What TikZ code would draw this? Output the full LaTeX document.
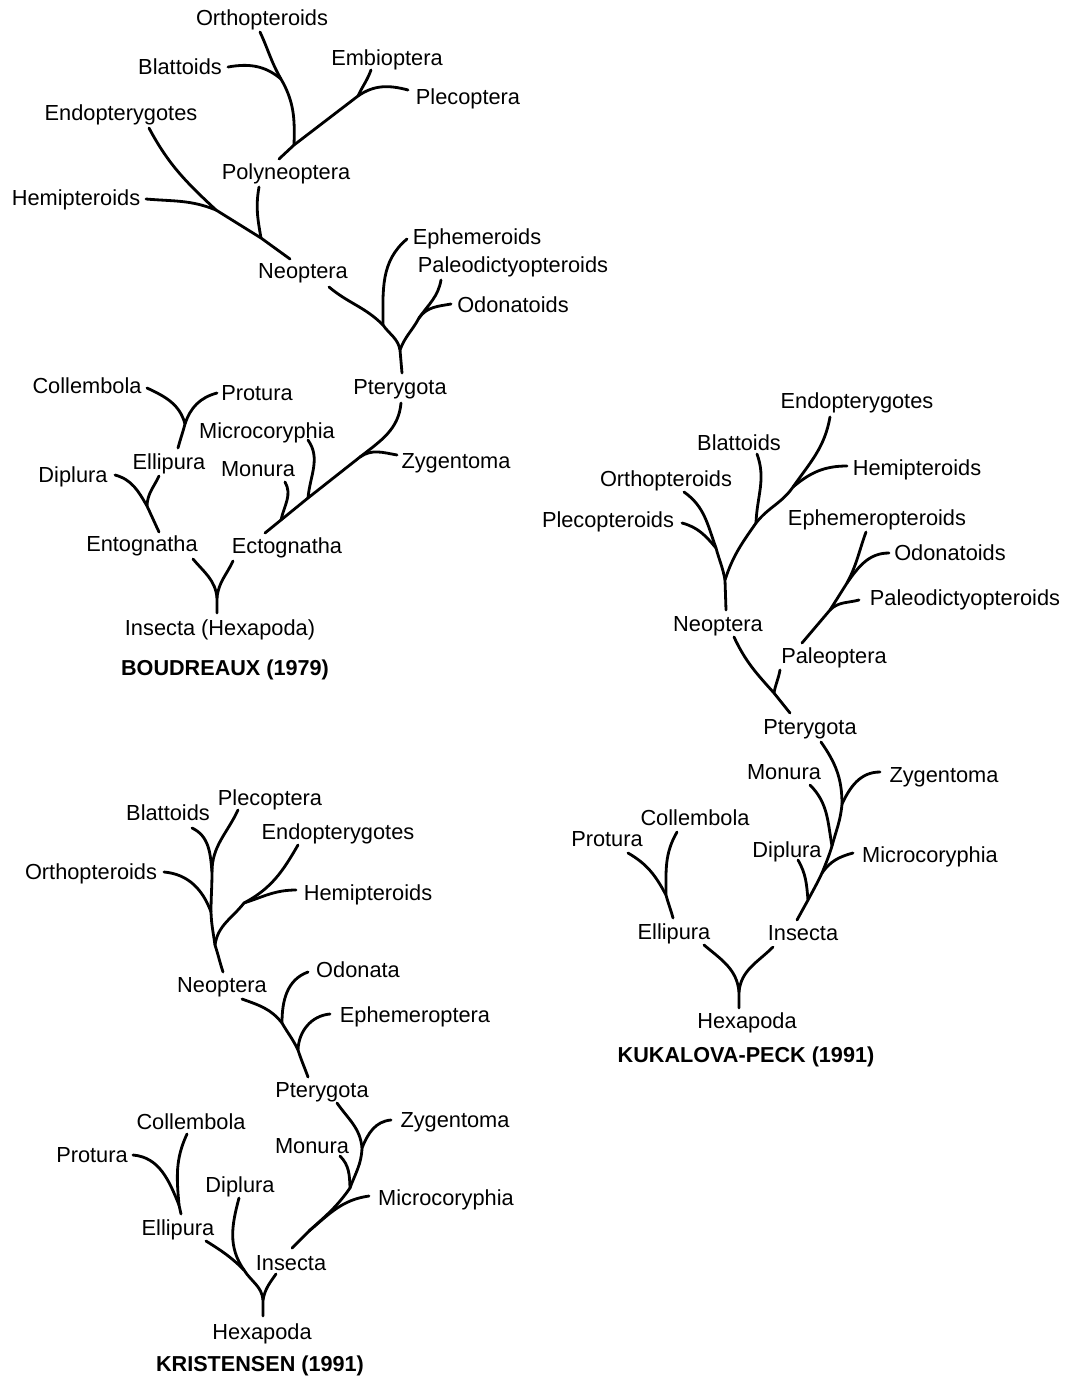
\documentclass[tikz,border=0pt]{standalone}
\usepackage{fontspec}
\newfontfamily\taxfont{Liberation Sans}
\usepackage{tikz}
\usetikzlibrary{positioning,calc}
\tikzstyle{taxon} = [font=\taxfont\fontsize{12.4}{14}\selectfont, inner sep=0pt, text depth=0pt]
\tikzstyle{author} = [font=\taxfont\bfseries\fontsize{12.3}{14}\selectfont, inner sep=0pt, text depth=0pt]
\tikzstyle{branch} = [line width=1.6pt, line cap=round]

\begin{document}
\begin{tikzpicture}[x=0.02cm, y=-0.02cm]
        \useasboundingbox (0,0) rectangle (1074,1380);
        % Boudreaux (1979)
        \node[taxon] (bOrth) at (262,18) {Orthopteroids};
        \node[taxon] (bBlat) at (180,67) {Blattoids};
        \node[taxon] (bEmbi) at (387,58) {Embioptera};
        \node[taxon] (bPlec) at (468,97) {Plecoptera};
        \node[taxon] (bEndo) at (121,113) {Endopterygotes};
        \node[taxon] (bPoly) at (286,172) {Polyneoptera};
        \node[taxon] (bHemi) at (76,198) {Hemipteroids};
        \node[taxon] (bEphe) at (477,237) {Ephemeroids};
        \node[taxon] (bNeop) at (303,271) {Neoptera};
        \node[taxon] (bPaleo) at (513,265) {Paleodictyopteroids};
        \node[taxon] (bOdon) at (513,305) {Odonatoids};
        \node[taxon] (bColl) at (87,386) {Collembola};
        \node[taxon] (bProt) at (257,393) {Protura};
        \node[taxon] (bPter) at (400,387) {Pterygota};
        \node[taxon] (bMicr) at (267,431) {Microcoryphia};
        \node[taxon] (bElli) at (169,462) {Ellipura};
        \node[taxon] (bMonu) at (258,469) {Monura};
        \node[taxon] (bZyge) at (456,461) {Zygentoma};
        \node[taxon] (bDipl) at (73,475) {Diplura};
        \node[taxon] (bEnto) at (142,544) {Entognatha};
        \node[taxon] (bEcto) at (287,546) {Ectognatha};
        \node[taxon] (bInse) at (220,628) {Insecta (Hexapoda)};
        \node[author] (bTitle) at (225,668) {BOUDREAUX (1979)};

        \coordinate (bOrthT) at (260,32);
        \coordinate (bjOB) at (281,79);
        \coordinate (bjPoly) at (294,145);
        \coordinate (bPolyT) at (279,159);
        \coordinate (bBlatT) at (228,67);
        \coordinate (bEmbiT) at (371,70);
        \coordinate (bjEP) at (358,96);
        \coordinate (bPlecT) at (408,90);
        \coordinate (bPolyB) at (259,187);
        \coordinate (bjPN) at (261,238);
        \coordinate (bEndoT) at (149,128);
        \coordinate (bjHE) at (216,210);
        \coordinate (bNeopT) at (290,259);
        \coordinate (bHemiT) at (146,199);
        \coordinate (bNeopB) at (329,287);
        \coordinate (bjNE) at (383,325);
        \coordinate (bjNP) at (400,350);
        \coordinate (bPterT) at (402,373);
        \coordinate (bEpheT) at (407,239);
        \coordinate (bPaleoT) at (441,280);
        \coordinate (bjPO) at (419,318);
        \coordinate (bOdonT) at (451,304);
        \coordinate (bCollT) at (147,388);
        \coordinate (bProtT) at (217,393);
        \coordinate (bjCP) at (185,424);
        \coordinate (bElliT) at (178,448);
        \coordinate (bDiplT) at (115,475);
        \coordinate (bElliB) at (159,476);
        \coordinate (bjDE) at (147,506);
        \coordinate (bEntoT) at (159,532);
        \coordinate (bEntoB) at (193,559);
        \coordinate (bEctoB) at (233,561);
        \coordinate (bjIns) at (217,598);
        \coordinate (bInseT) at (217,613);
        \coordinate (bPterB) at (401,403);
        \coordinate (bjPZ) at (360,457);
        \coordinate (bjMi) at (308,498);
        \coordinate (bjMo) at (281,520);
        \coordinate (bEctoT) at (265,533);
        \coordinate (bZygeT) at (397,455);
        \coordinate (bMicrT) at (308,440);
        \coordinate (bMonuT) at (285,482);

        \draw[branch] (bOrthT) to[out=-65,in=120] (bjOB) to[out=-60,in=88] (bjPoly);
        \draw[branch] (bBlatT) to[out=10,in=140] (bjOB);
        \draw[branch] (bEmbiT) to[out=-110,in=65] (bjEP);
        \draw[branch] (bPlecT) to[out=165,in=35] (bjEP) -- (bjPoly) -- (bPolyT);
        \draw[branch] (bPolyB) to[out=-100,in=100] (bjPN);
        \draw[branch] (bEndoT) to[out=-62,in=137] (bjHE) -- (bjPN) -- (bNeopT);
        \draw[branch] (bHemiT) to[out=-5,in=158] (bjHE);
        \draw[branch] (bNeopB) to[out=-40,in=135] (bjNE) to[out=-55,in=100] (bjNP) -- (bPterT);
        \draw[branch] (bEpheT) to[out=-140,in=90] (bjNE);
        \draw[branch] (bPaleoT) to[out=-100,in=55] (bjPO) to[out=-118,in=70] (bjNP);
        \draw[branch] (bOdonT) to[out=-170,in=55] (bjPO);
        \draw[branch] (bCollT) to[out=-25,in=105] (bjCP);
        \draw[branch] (bProtT) to[out=-165,in=72] (bjCP) to[out=-105,in=75] (bElliT);
        \draw[branch] (bDiplT) to[out=-15,in=120] (bjDE) to[out=-65,in=115] (bEntoT);
        \draw[branch] (bElliB) to[out=-115,in=88] (bjDE);
        \draw[branch] (bEntoB) to[out=-50,in=95] (bjIns) -- (bInseT);
        \draw[branch] (bEctoB) to[out=-115,in=85] (bjIns);
        \draw[branch] (bPterB) to[out=-95,in=38] (bjPZ) -- (bjMi) -- (bjMo) -- (bEctoT);
        \draw[branch] (bZygeT) to[out=170,in=35] (bjPZ);
        \draw[branch] (bMicrT) to[out=-55,in=85] (bjMi);
        \draw[branch] (bMonuT) to[out=-60,in=78] (bjMo);

        % Kukalova-Peck (1991)
        \node[taxon] (kEndo) at (857,401) {Endopterygotes};
        \node[taxon] (kBlat) at (739,443) {Blattoids};
        \node[taxon] (kOrth) at (666,479) {Orthopteroids};
        \node[taxon] (kHemi) at (917,468) {Hemipteroids};
        \node[taxon] (kPlec) at (608,520) {Plecopteroids};
        \node[taxon] (kEphe) at (877,518) {Ephemeropteroids};
        \node[taxon] (kOdon) at (950,553) {Odonatoids};
        \node[taxon] (kPaleo) at (965,598) {Paleodictyopteroids};
        \node[taxon] (kNeop) at (718,624) {Neoptera};
        \node[taxon] (kPaleop) at (834,656) {Paleoptera};
        \node[taxon] (kPter) at (810,727) {Pterygota};
        \node[taxon] (kMonu) at (784,772) {Monura};
        \node[taxon] (kZyge) at (944,775) {Zygentoma};
        \node[taxon] (kColl) at (695,818) {Collembola};
        \node[taxon] (kProt) at (607,839) {Protura};
        \node[taxon] (kDipl) at (787,850) {Diplura};
        \node[taxon] (kMicr) at (930,855) {Microcoryphia};
        \node[taxon] (kElli) at (674,932) {Ellipura};
        \node[taxon] (kInse) at (803,933) {Insecta};
        \node[taxon] (kHexa) at (747,1021) {Hexapoda};
        \node[author] (kTitle) at (746,1055) {KUKALOVA-PECK (1991)};

        \coordinate (kEndoT) at (830,417);
        \coordinate (kjEH) at (793,487);
        \coordinate (kjEB) at (756,523);
        \coordinate (kjOP) at (716,548);
        \coordinate (kjN) at (725,580);
        \coordinate (kNeopT) at (726,610);
        \coordinate (kHemiT) at (847,466);
        \coordinate (kBlatT) at (757,454);
        \coordinate (kOrthT) at (684,492);
        \coordinate (kPlecT) at (682,523);
        \coordinate (kNeopB) at (734,637);
        \coordinate (kjPP) at (774,693);
        \coordinate (kPterT) at (790,713);
        \coordinate (kPaleopB) at (780,670);
        \coordinate (kEpheT) at (866,532);
        \coordinate (kjEO) at (847,583);
        \coordinate (kjEP) at (830,610);
        \coordinate (kPaleopT) at (802,643);
        \coordinate (kOdonT) at (889,553);
        \coordinate (kPaleoT) at (859,600);
        \coordinate (kPterB) at (821,742);
        \coordinate (kjZ) at (842,804);
        \coordinate (kjMo) at (832,846);
        \coordinate (kjMi) at (822,873);
        \coordinate (kjD) at (808,900);
        \coordinate (kInseT) at (797,920);
        \coordinate (kZygeT) at (880,772);
        \coordinate (kMonuT) at (810,785);
        \coordinate (kMicrT) at (853,853);
        \coordinate (kDiplT) at (798,860);
        \coordinate (kCollT) at (677,832);
        \coordinate (kProtT) at (628,853);
        \coordinate (kjCP) at (666,895);
        \coordinate (kElliT) at (673,918);
        \coordinate (kElliB) at (704,945);
        \coordinate (kInseB) at (773,947);
        \coordinate (kjH) at (739,992);
        \coordinate (kHexaT) at (739,1008);

        \draw[branch] (kEndoT) to[out=-100,in=55] (kjEH) to[out=-125,in=52] (kjEB) to[out=-125,in=72] (kjN) -- (kNeopT);
        \draw[branch] (kHemiT) to[out=180,in=40] (kjEH);
        \draw[branch] (kBlatT) to[out=-70,in=88] (kjEB);
        \draw[branch] (kOrthT) to[out=-35,in=110] (kjOP) to[out=-75,in=100] (kjN);
        \draw[branch] (kPlecT) to[out=-15,in=130] (kjOP);
        \draw[branch] (kNeopB) to[out=-65,in=132] (kjPP) -- (kPterT);
        \draw[branch] (kPaleopB) to[out=-100,in=80] (kjPP);
        \draw[branch] (kEpheT) to[out=-110,in=62] (kjEO) -- (kjEP) -- (kPaleopT);
        \draw[branch] (kOdonT) to[out=180,in=55] (kjEO);
        \draw[branch] (kPaleoT) to[out=-165,in=45] (kjEP);
        \draw[branch] (kPterB) to[out=-55,in=90] (kjZ) to[out=-95,in=75] (kjMo) to[out=-107,in=68] (kjMi) to[out=-115,in=62] (kjD) -- (kInseT);
        \draw[branch] (kZygeT) to[out=180,in=65] (kjZ);
        \draw[branch] (kMonuT) to[out=-45,in=100] (kjMo);
        \draw[branch] (kMicrT) to[out=-165,in=55] (kjMi);
        \draw[branch] (kDiplT) to[out=-60,in=95] (kjD);
        \draw[branch] (kCollT) to[out=-120,in=90] (kjCP) to[out=-75,in=105] (kElliT);
        \draw[branch] (kProtT) to[out=-30,in=118] (kjCP);
        \draw[branch] (kElliB) to[out=-40,in=95] (kjH) -- (kHexaT);
        \draw[branch] (kInseB) to[out=-135,in=85] (kjH);

        % Kristensen (1991)
        \node[taxon] (rPlec) at (270,798) {Plecoptera};
        \node[taxon] (rBlat) at (168,813) {Blattoids};
        \node[taxon] (rEndo) at (338,832) {Endopterygotes};
        \node[taxon] (rOrth) at (91,872) {Orthopteroids};
        \node[taxon] (rHemi) at (368,893) {Hemipteroids};
        \node[taxon] (rOdon) at (358,970) {Odonata};
        \node[taxon] (rNeop) at (222,985) {Neoptera};
        \node[taxon] (rEphe) at (415,1015) {Ephemeroptera};
        \node[taxon] (rPter) at (322,1090) {Pterygota};
        \node[taxon] (rZyge) at (455,1120) {Zygentoma};
        \node[taxon] (rColl) at (191,1122) {Collembola};
        \node[taxon] (rMonu) at (312,1146) {Monura};
        \node[taxon] (rProt) at (92,1155) {Protura};
        \node[taxon] (rDipl) at (240,1185) {Diplura};
        \node[taxon] (rMicr) at (446,1198) {Microcoryphia};
        \node[taxon] (rElli) at (178,1228) {Ellipura};
        \node[taxon] (rInse) at (291,1263) {Insecta};
        \node[taxon] (rHexa) at (262,1332) {Hexapoda};
        \node[author] (rTitle) at (260,1364) {KRISTENSEN (1991)};

        \coordinate (rPlecT) at (238,810);
        \coordinate (rBlatT) at (192,828);
        \coordinate (rjBP) at (212,872);
        \coordinate (rjO) at (211,912);
        \coordinate (rjM) at (215,945);
        \coordinate (rNeopT) at (223,972);
        \coordinate (rOrthT) at (164,872);
        \coordinate (rEndoT) at (298,845);
        \coordinate (rHemiT) at (296,890);
        \coordinate (rjEH) at (244,903);
        \coordinate (rNeopB) at (242,999);
        \coordinate (rjNO) at (282,1023);
        \coordinate (rjNE) at (298,1050);
        \coordinate (rPterT) at (308,1077);
        \coordinate (rOdonT) at (308,972);
        \coordinate (rEpheT) at (330,1014);
        \coordinate (rPterB) at (337,1103);
        \coordinate (rjZ) at (362,1148);
        \coordinate (rjMo) at (350,1188);
        \coordinate (rjMi) at (309,1231);
        \coordinate (rInseT) at (292,1248);
        \coordinate (rZygeT) at (391,1120);
        \coordinate (rMonuT) at (340,1156);
        \coordinate (rMicrT) at (369,1196);
        \coordinate (rCollT) at (187,1134);
        \coordinate (rProtT) at (133,1155);
        \coordinate (rjCP) at (179,1205);
        \coordinate (rElliT) at (181,1214);
        \coordinate (rElliB) at (206,1241);
        \coordinate (rjD) at (244,1270);
        \coordinate (rjI) at (263,1300);
        \coordinate (rHexaT) at (263,1316);
        \coordinate (rDiplT) at (239,1198);
        \coordinate (rInseB) at (276,1274);

        \draw[branch] (rPlecT) to[out=-115,in=90] (rjBP) to[out=-90,in=90] (rjO) to[out=-88,in=98] (rjM) to[out=-72,in=108] (rNeopT);
        \draw[branch] (rBlatT) to[out=-25,in=95] (rjBP);
        \draw[branch] (rOrthT) to[out=-5,in=110] (rjO);
        \draw[branch] (rEndoT) to[out=-120,in=28] (rjEH) to[out=-128,in=82] (rjM);
        \draw[branch] (rHemiT) to[out=180,in=18] (rjEH);
        \draw[branch] (rNeopB) to[out=-20,in=128] (rjNO) to[out=-60,in=115] (rjNE) to[out=-72,in=110] (rPterT);
        \draw[branch] (rOdonT) to[out=-160,in=90] (rjNO);
        \draw[branch] (rEpheT) to[out=-175,in=88] (rjNE);
        \draw[branch] (rPterB) to[out=-55,in=95] (rjZ) to[out=-92,in=70] (rjMo) to[out=-125,in=42] (rjMi) -- (rInseT);
        \draw[branch] (rZygeT) to[out=185,in=68] (rjZ);
        \draw[branch] (rMonuT) to[out=-45,in=92] (rjMo);
        \draw[branch] (rMicrT) to[out=-172,in=40] (rjMi);
        \draw[branch] (rCollT) to[out=-115,in=95] (rjCP) -- (rElliT);
        \draw[branch] (rProtT) to[out=-5,in=112] (rjCP);
        \draw[branch] (rElliB) to[out=-32,in=135] (rjD) to[out=-58,in=95] (rjI) -- (rHexaT);
        \draw[branch] (rDiplT) to[out=-105,in=125] (rjD);
        \draw[branch] (rInseB) to[out=-125,in=80] (rjI);
    \end{tikzpicture}
\end{document}
